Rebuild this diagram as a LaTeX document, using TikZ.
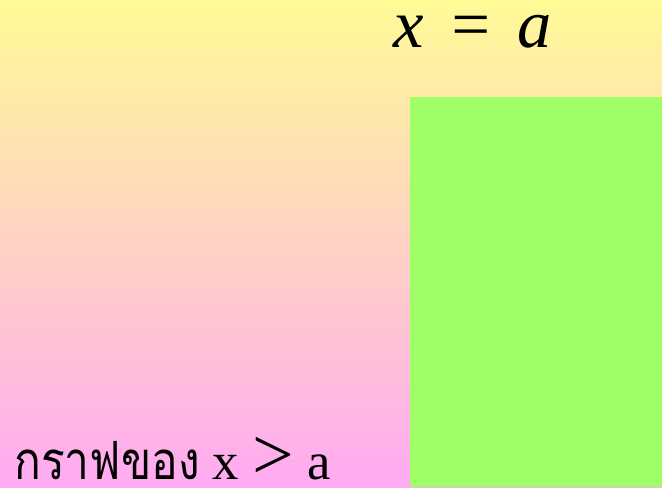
\documentclass[tikz,border=0pt]{standalone}
\usepackage{fontspec}
\setmainfont{Liberation Serif}
\newfontfamily\thaifont[Script=Thai,FakeStretch=0.84]{Loma}
\definecolor{bgtop}{RGB}{255,250,150}
\definecolor{bgbottom}{RGB}{255,170,242}
\definecolor{region}{RGB}{160,255,102}
\begin{document}
\begin{tikzpicture}[x=0.02cm,y=-0.02cm]
      \shade[top color=bgtop, bottom color=bgbottom] (0,0) rectangle (662,487);
      \useasboundingbox (0,0) rectangle (662,487);
      \fill[region] (410,97) rectangle (662,487);
      \node[anchor=base west, inner sep=0pt] (line) at (393,47) {\fontsize{39}{42}\selectfont\itshape x\hspace{0.35em}=\hspace{0.35em}a};
      \node[anchor=base west, inner sep=0pt] (graph) at (14,479) {\fontsize{30}{34}\selectfont{\thaifont กราฟของ} x \fontsize{42}{42}\selectfont>\fontsize{30}{34}\selectfont{} a};
    \end{tikzpicture}
\end{document}
